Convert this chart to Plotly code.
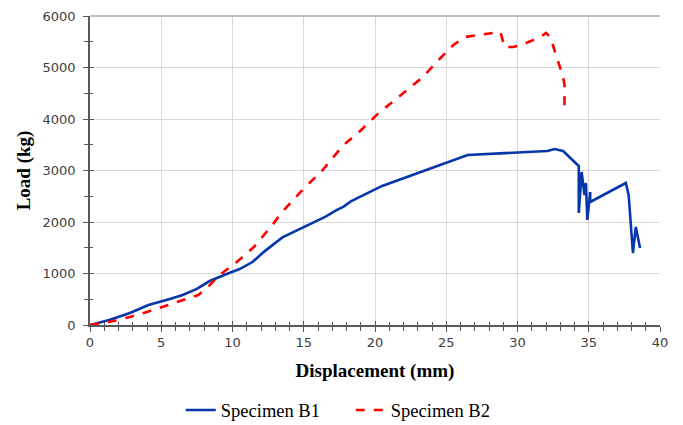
import plotly.graph_objects as go

b1_x = [0, 1.4, 2.8, 4.1, 5.6, 6.5, 7.5, 8.4, 9.5, 10.5, 11.4, 12.2, 13.5, 15.0, 16.5, 17.3, 17.8, 18.3, 20.5, 23.5, 26.5, 30.0, 32.1, 32.6, 33.2, 34.3, 34.3, 34.5, 34.7, 34.8, 34.9, 35.1, 35.1, 37.6, 37.8, 38.1, 38.3, 38.6]
b1_y = [0, 100, 233, 388, 505, 583, 700, 854, 980, 1087, 1223, 1420, 1700, 1900, 2100, 2230, 2300, 2400, 2700, 3000, 3300, 3350, 3379, 3417, 3379, 3087, 2175, 2971, 2524, 2757, 2039, 2582, 2388, 2757, 2524, 1398, 1903, 1495]

b2_x = [0, 1.4, 2.8, 4.0, 6.1, 7.6, 8.2, 9.1, 10.3, 11.5, 12.8, 13.5, 15.0, 16.3, 17.8, 18.7, 20.2, 21.5, 23.3, 24.6, 25.5, 26.3, 28.1, 28.8, 29.1, 29.7, 30.3, 31.6, 32.0, 32.3, 33.2, 33.3, 33.3]
b2_y = [0, 64, 155, 252, 446, 583, 718, 971, 1223, 1515, 1942, 2200, 2650, 3000, 3500, 3700, 4100, 4400, 4800, 5184, 5437, 5592, 5670, 5690, 5398, 5398, 5437, 5592, 5670, 5592, 4816, 4660, 4136]

x_ticks = [0, 5, 10, 15, 20, 25, 30, 35, 40]
y_ticks = [0, 1000, 2000, 3000, 4000, 5000, 6000]

fig = go.Figure()
fig.add_trace(go.Scatter(x=b1_x, y=b1_y, mode="lines", name="Specimen B1",
                         line=dict(color="#0536aa", width=2.6)))
fig.add_trace(go.Scatter(x=b2_x, y=b2_y, mode="lines", name="Specimen B2",
                         line=dict(color="#ff0000", width=2.6, dash="dash")))
fig.add_trace(go.Scatter(x=[None], y=[None], xaxis="x2", yaxis="y2", showlegend=False, hoverinfo="skip"))

tickfont = dict(family="DejaVu Sans", size=13, color="#404040")
titlefont = dict(family="Liberation Serif", size=19, color="black")

# page body has an 8px margin, so the figure is sized to the visible area
fig.update_layout(
    width=675, height=417,
    margin=dict(l=82, r=23, t=8, b=100, autoexpand=False),
    paper_bgcolor="white", plot_bgcolor="white",
    showlegend=True,
    legend=dict(orientation="h", x=0.4575, xanchor="center",
                y=-0.215, yanchor="top",
                font=dict(family="Liberation Serif", size=18.5, color="black"),
                itemwidth=30, entrywidth=125, entrywidthmode="pixels", tracegroupgap=0),
    xaxis=dict(range=[0, 40], tickvals=x_ticks, ticktext=[str(v) for v in x_ticks],
               showgrid=True, gridcolor="#d9d9d9", gridwidth=1,
               showline=True, linecolor="#595959", linewidth=1.5,
               ticks="outside", ticklen=5, tickcolor="#595959", tickwidth=1.2,
               minor=dict(dtick=1, ticks="outside", ticklen=4, tickcolor="#595959", showgrid=False),
               tickfont=tickfont, zeroline=False, automargin=False,
               title=dict(text="<b>Displacement (mm)</b>", font=titlefont, standoff=14)),
    yaxis=dict(range=[0, 6000], tickvals=y_ticks, ticktext=[str(v) for v in y_ticks],
               showgrid=True, gridcolor="#d9d9d9", gridwidth=1,
               showline=True, linecolor="#595959", linewidth=1.5,
               ticks="outside", ticklen=5, tickcolor="#595959", tickwidth=1.2,
               ticklabelstandoff=5,
               minor=dict(dtick=500, ticks="outside", ticklen=4, tickcolor="#595959", showgrid=False),
               tickfont=tickfont, zeroline=False, automargin=False,
               title=dict(text="<b>Load (kg)</b>", font=titlefont, standoff=7)),
    xaxis2=dict(overlaying="x", matches="x", range=[0, 40], tickvals=x_ticks,
                showticklabels=False, showgrid=False, showline=False, zeroline=False,
                ticks="inside", ticklen=4, tickcolor="#595959", tickwidth=1.2, automargin=False,
                minor=dict(dtick=1, ticks="inside", ticklen=3, tickcolor="#595959")),
    yaxis2=dict(overlaying="y", matches="y", range=[0, 6000], tickvals=y_ticks,
                showticklabels=False, showgrid=False, showline=False, zeroline=False,
                ticks="inside", ticklen=4, tickcolor="#595959", tickwidth=1.2, automargin=False,
                minor=dict(dtick=500, ticks="inside", ticklen=3, tickcolor="#595959")),
)
fig.add_shape(type="line", xref="paper", yref="paper", x0=0, x1=1, y0=1, y1=1,
              line=dict(color="#bfbfbf", width=2))

fig.write_html("out.html")
